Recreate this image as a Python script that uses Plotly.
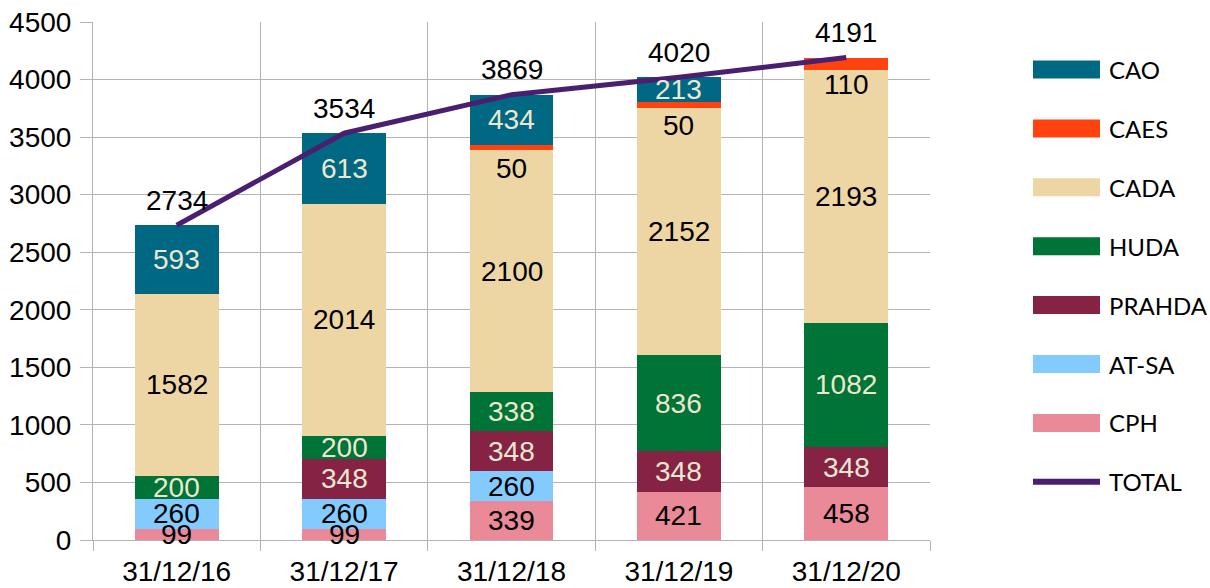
import plotly.graph_objects as go

categories = ["31/12/16", "31/12/17", "31/12/18", "31/12/19", "31/12/20"]
cph = [99, 99, 339, 421, 458]
at_sa = [260, 260, 260, 0, 0]
prahda = [0, 348, 348, 348, 348]
huda = [200, 200, 338, 836, 1082]
cada = [1582, 2014, 2100, 2152, 2193]
caes = [0, 0, 50, 50, 110]
cao = [593, 613, 434, 213, 0]
total = [2734, 3534, 3869, 4020, 4191]

# stacking order bottom -> top
series = [
    ("CPH", cph, "#ea8a99", "black", 0),
    ("AT-SA", at_sa, "#83caff", "black", 0),
    ("PRAHDA", prahda, "#862244", "#ece8d0", 0),
    ("HUDA", huda, "#007336", "#ece8d0", 0),
    ("CADA", cada, "#eed6a4", "black", 0),
    ("CAES", caes, "#ff420e", "black", -21),
    ("CAO", cao, "#006883", "#ece8d0", 0),
]
total_color = "#4b1f6f"

NUM_FONT = "Liberation Sans, Arial, sans-serif"
LEG_FONT = "Lato, Carlito, sans-serif"

# plot area in pixels
L, R, T, B = 93, 930, 22, 540
W, H = 1210, 588

def px_x(p):
    return (p - L) / (R - L)

def px_y(p):
    return (B - p) / (B - T)

fig = go.Figure()
annotations = []
base = [0] * len(categories)
for name, vals, color, tcolor, shift in series:
    fig.add_trace(go.Bar(
        x=categories, y=vals, name=name, marker=dict(color=color, line=dict(width=0)),
        showlegend=False, hoverinfo="x+y+name",
    ))
    for i, v in enumerate(vals):
        if v:
            annotations.append(dict(
                x=categories[i], y=base[i] + v / 2, xref="x", yref="y",
                text=str(v), showarrow=False, yshift=shift,
                font=dict(family=NUM_FONT, size=28, color=tcolor),
            ))
        base[i] += v

fig.add_trace(go.Scatter(
    x=categories, y=total, name="TOTAL", mode="lines",
    line=dict(color=total_color, width=5), showlegend=False,
))
for i, v in enumerate(total):
    annotations.append(dict(
        x=categories[i], y=v, xref="x", yref="y", text=str(v), showarrow=False,
        yshift=25, font=dict(family=NUM_FONT, size=28, color="black"),
    ))

# custom legend
shapes = []
legend_items = [(n, c) for n, _, c, _, _ in reversed(series)] + [("TOTAL", total_color)]
for k, (name, color) in enumerate(legend_items):
    cy = 69.5 + k * 58.9
    if name == "TOTAL":
        shapes.append(dict(type="line", xref="paper", yref="paper",
                           x0=px_x(1033), x1=px_x(1100), y0=px_y(cy), y1=px_y(cy),
                           line=dict(color=color, width=6)))
    else:
        shapes.append(dict(type="rect", xref="paper", yref="paper",
                           x0=px_x(1033), x1=px_x(1100), y0=px_y(cy - 9), y1=px_y(cy + 9),
                           fillcolor=color, line=dict(width=0)))
    annotations.append(dict(
        x=px_x(1107), y=px_y(cy), xref="paper", yref="paper", text=name,
        showarrow=False, xanchor="left", yanchor="middle",
        font=dict(family=LEG_FONT, size=24, color="black"),
    ))

fig.update_layout(
    barmode="stack", bargap=0.5,
    width=W, height=H,
    margin=dict(l=L, r=W - R, t=T, b=H - B, pad=0, autoexpand=False),
    paper_bgcolor="white", plot_bgcolor="white",
    annotations=annotations, shapes=shapes,
    showlegend=False,
)
fig.update_xaxes(
    type="category", tickson="boundaries", showgrid=True, gridcolor="#b3b3b3", gridwidth=1,
    ticks="outside", ticklen=10, tickcolor="#b3b3b3",
    showline=True, linecolor="#b3b3b3", linewidth=1,
    tickfont=dict(family=NUM_FONT, size=28, color="black"),
    ticklabelstandoff=6, automargin=False,
    range=[-0.5, 4.5],
)
fig.update_yaxes(
    range=[0, 4500], dtick=500, showgrid=True, gridcolor="#b3b3b3", gridwidth=1,
    ticks="outside", ticklen=12, tickcolor="#b3b3b3",
    showline=True, linecolor="#b3b3b3", linewidth=1, zeroline=False,
    tickfont=dict(family=NUM_FONT, size=28, color="black"),
    ticklabelstandoff=3, automargin=False,
)

fig.write_html("out.html", config={"displayModeBar": False},
               post_script="document.body.style.margin='0';")
